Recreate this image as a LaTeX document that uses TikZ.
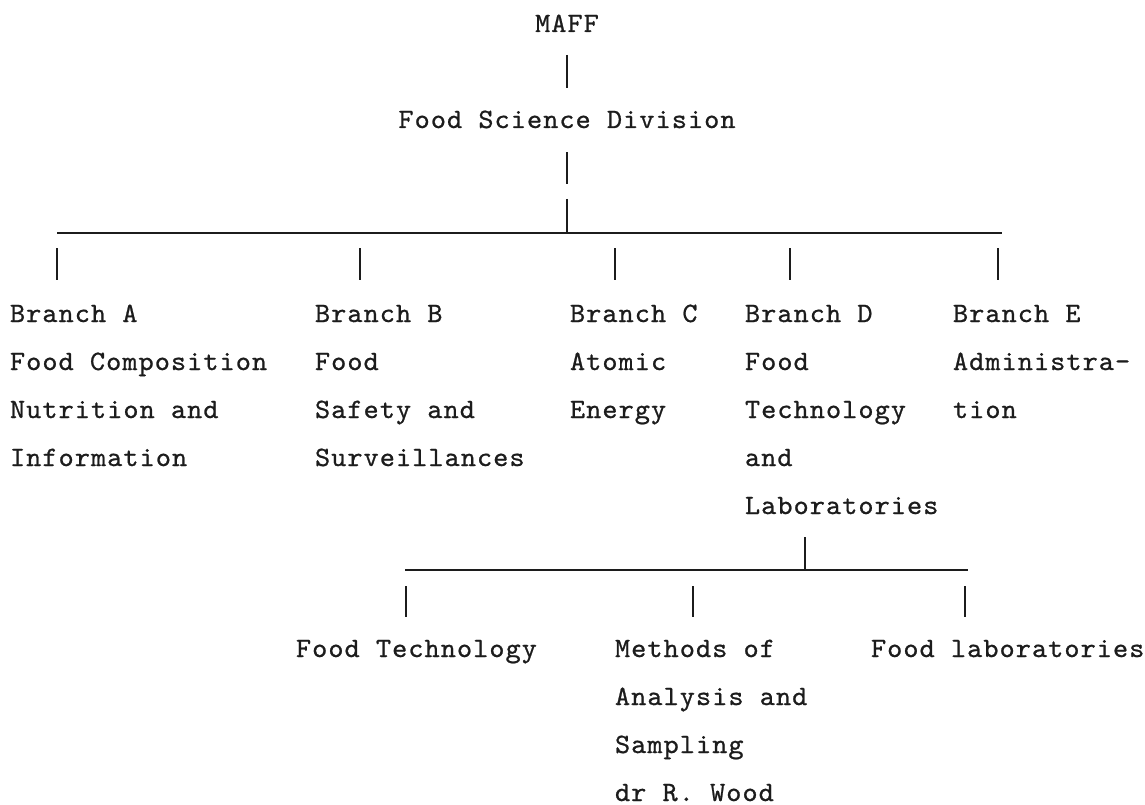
\documentclass[tikz,border=0pt]{standalone}
\usepackage{fontspec}
\newfontfamily\tw{lmmono10-regular.otf}[FakeStretch=1.03,LetterSpace=3.8,FakeBold=0.8]
\definecolor{ink}{HTML}{1C1C1C}
\begin{document}
\begin{tikzpicture}[x=1pt,y=-1pt,
  every node/.style={inner sep=0pt,outer sep=0pt,text=ink,
    font=\tw\fontsize{28}{48}\selectfont},
  label/.style={anchor=base west,align=left},
  title/.style={anchor=base},
  conn/.style={draw=ink,line width=2pt},
  busline/.style={draw=ink,line width=2.6pt}]
\useasboundingbox (0,0) rectangle (1145,805);

% top
\node[title] (maff) at (567,32) {MAFF};
\node[title] (fsd) at (567,128) {Food Science Division};
\draw[conn] ([yshift=-23pt]maff.south) -- ([yshift=23pt]fsd.north);
\coordinate (brk) at (567,184);
\coordinate (bus) at (567,233);
\draw[conn] ([yshift=-24pt]fsd.south) -- (brk);
\draw[conn] ([yshift=-15pt]brk) -- (bus);

% main bus
\coordinate (busL) at (57,233);
\coordinate (busR) at (1002,233);
\draw[busline] (busL) -- (busR);

% branch ticks
\coordinate (tA) at (57,248);
\coordinate (tB) at (360,248);
\coordinate (tC) at (615,248);
\coordinate (tD) at (790,248);
\coordinate (tE) at (998,248);
\foreach \t in {tA,tB,tC,tD,tE} \draw[conn] (\t) -- ++(0,32);

% branches (base anchor = baseline of the last line)
\node[label] (ba) at (10,466) {Branch A\\Food Composition\\Nutrition and\\Information};
\node[label] (bb) at (315,466) {Branch B\\Food\\Safety and\\Surveillances};
\node[label] (bc) at (570,418) {Branch C\\Atomic\\Energy};
\node[label] (bd) at (745,514) {Branch D\\Food\\Technology\\and\\Laboratories};
\node[label] (be) at (953,418) {Branch E\\Administra-\\tion};

% sub bus
\coordinate (dUp) at (805,537);
\coordinate (sub) at (805,570);
\coordinate (subL) at (405,570);
\coordinate (subR) at (968,570);
\draw[conn] (dUp) -- (sub);
\draw[busline] (subL) -- (subR);

\coordinate (s1) at (406,586);
\coordinate (s2) at (693,586);
\coordinate (s3) at (965,586);
\foreach \t in {s1,s2,s3} \draw[conn] (\t) -- ++(0,31);

\node[label] (ft) at (296,657) {Food Technology};
\node[label] (ma) at (615,801) {Methods of\\Analysis and\\Sampling\\dr R. Wood};
\node[label] (fl) at (871,657) {Food laboratories};
\end{tikzpicture}
\end{document}
